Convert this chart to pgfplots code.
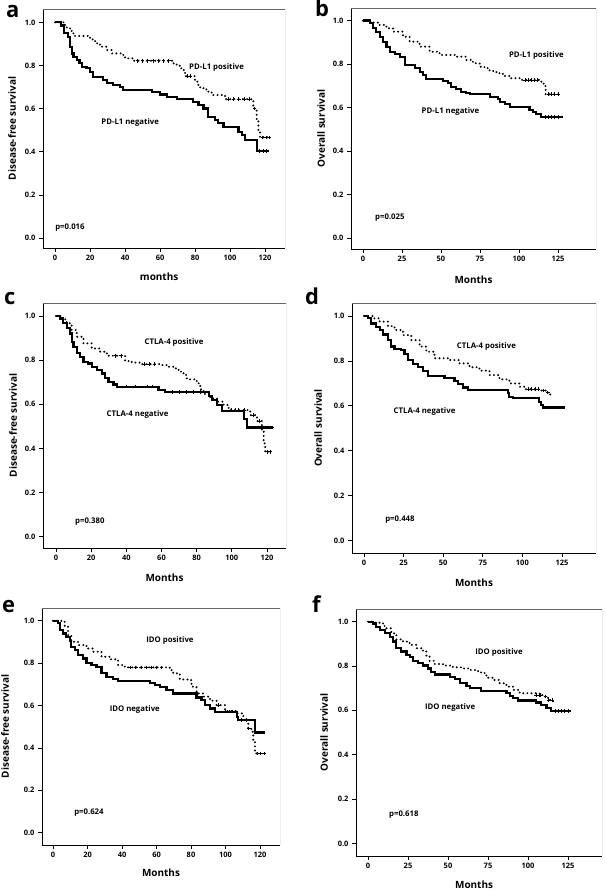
\documentclass[border=0pt]{standalone}
\usepackage{fontspec}
\setmainfont{Open Sans}
\usepackage{pgfplots}
\pgfplotsset{compat=1.18}
\newcommand{\tickf}{\fontsize{7.5}{8}\selectfont\bfseries}
\newcommand{\labf}{\fontsize{10}{12}\selectfont\bfseries}
\newcommand{\annf}{\fontsize{7.8}{9}\selectfont\bfseries}
\newcommand{\letf}{\fontsize{22}{26}\selectfont\bfseries}
\pgfplotsset{
  km/.style={
    scale only axis, anchor=north west,
    axis lines=left, axis line style={-, line width=0.9bp},
    x axis line style={-}, y axis line style={-},
    tick align=outside, tick pos=left, major tick length=4bp,
    tick style={black, line width=0.8bp},
    ytick={0,0.2,0.4,0.6,0.8,1.0},
    yticklabel style={/pgf/number format/.cd, fixed, fixed zerofill, precision=1},
    /pgf/number format/assume math mode=true,
    tick label style={font=\tickf},
    label style={font=\labf},
    xlabel style={anchor=center},
    ylabel style={anchor=center},
  },
  neg/.style={black, line width=2.2bp, const plot, line join=miter},
  pos/.style={black, line width=2.2bp, const plot, line cap=round, dash pattern=on 0bp off 4.2bp},
  cens/.style={only marks, mark=+, mark size=1.8bp, black, line width=0.8bp},
  xA/.style={xtick={0,20,40,60,80,100,120}},
  xB/.style={xtick={0,25,50,75,100,125}},
}
\newcommand{\frameTR}{\draw[black!60, line width=0.8bp] (rel axis cs:0,1) -- (rel axis cs:1,1) -- (rel axis cs:1,0);}
\begin{document}
\begin{tikzpicture}
\useasboundingbox (0bp,0bp) rectangle (606bp,891bp);
% panel letters
\node[font=\letf, anchor=base west, inner sep=0] at (6bp,873bp) {a};
\node[font=\letf, anchor=base west, inner sep=0] at (315bp,874bp) {b};
\node[font=\letf, anchor=base west, inner sep=0] at (4bp,586bp) {c};
\node[font=\letf, anchor=base west, inner sep=0] at (305bp,586bp) {d};
\node[font=\letf, anchor=base west, inner sep=0] at (2bp,278bp) {e};
\node[font=\letf, anchor=base west, inner sep=0] at (312bp,278bp) {f};

% ---------------- a ----------------
\begin{axis}[km, xA, at={(43bp,882bp)}, width=242bp, height=239bp,
  xmin=-6.9, xmax=131.4, ymin=-0.046, ymax=1.062,
  xlabel={months}, ylabel={Disease-free survival},
  xlabel style={at={(axis description cs:0.48,-0.121)}},
  ylabel style={at={(axis description cs:-0.128,0.5)}}]
\frameTR
\addplot[neg] coordinates {(0,1.0)(3.5,0.985)(5,0.95)(7.5,0.933)(8.5,0.887)(9.5,0.856)(10.5,0.84)(12.4,0.825)(14,0.81)(15.2,0.794)(18,0.787)(20,0.771)(21.9,0.748)(25.7,0.745)(27.6,0.733)(29.5,0.72)(33.3,0.709)(37,0.699)(39,0.686)(55.2,0.678)(60,0.666)(63.8,0.655)(69.5,0.644)(79,0.632)(82,0.617)(84.8,0.601)(87.6,0.563)(91.4,0.547)(93.3,0.532)(96.2,0.516)(104.8,0.493)(106.7,0.477)(108.6,0.454)(115.6,0.403)(122,0.403)};
\addplot[pos] coordinates {(0,1)(5.7,0.988)(6.7,0.972)(9.5,0.949)(11.4,0.937)(20,0.921)(22.9,0.903)(25.7,0.887)(29.5,0.872)(32.4,0.856)(39,0.838)(41.5,0.833)(44.8,0.822)(67.6,0.81)(69.5,0.799)(71.4,0.787)(73.3,0.779)(74.3,0.751)(80,0.725)(81.9,0.699)(84.8,0.689)(87.6,0.678)(89.5,0.663)(97.1,0.644)(113.3,0.601)(115.2,0.547)(116.2,0.493)(117.1,0.467)(123,0.467)};
\addplot[cens] coordinates {(117,0.403)(119,0.403)(121,0.403)(47,0.822)(50,0.822)(53,0.822)(56,0.822)(59,0.822)(62,0.822)(65,0.822)(75.5,0.751)(77.5,0.751)(99,0.644)(102,0.644)(105,0.644)(108,0.644)(111,0.644)(114,0.601)(118.5,0.467)(120.5,0.467)(122.5,0.467)};
\node[font=\annf] at (axis cs:92.3,0.793) {PD-L1 positive};
\node[font=\annf] at (axis cs:42.9,0.538) {PD-L1 negative};
\node[font=\annf, anchor=west, inner sep=0] at (axis cs:0,0.048) {p=0.016};
\end{axis}

% ---------------- b ----------------
\begin{axis}[km, xB, at={(351bp,883bp)}, width=245bp, height=241bp,
  xmin=-7.7, xmax=149.4, ymin=-0.051, ymax=1.058,
  xlabel={Months}, ylabel={Overall survival},
  xlabel style={at={(axis description cs:0.5,-0.129)}},
  ylabel style={at={(axis description cs:-0.122,0.5)}}]
\frameTR
\addplot[neg] coordinates {(0,1)(4.3,0.988)(6.4,0.965)(8.5,0.949)(10.7,0.926)(12.8,0.903)(15,0.88)(17.1,0.857)(20.3,0.845)(23.5,0.834)(26.7,0.796)(33.1,0.781)(36.3,0.765)(38.5,0.75)(40.6,0.732)(51.3,0.722)(54.5,0.712)(56.6,0.696)(59.8,0.684)(63,0.673)(66.2,0.666)(68.4,0.661)(81.2,0.65)(86.5,0.64)(87.6,0.627)(90.8,0.615)(94,0.604)(106.8,0.589)(109,0.581)(111.1,0.569)(114.3,0.555)(128,0.555)};
\addplot[pos] coordinates {(0,1)(3,0.995)(6.4,0.991)(10.7,0.98)(15,0.965)(19.2,0.949)(25.6,0.926)(29.9,0.903)(36.3,0.88)(42.7,0.857)(49.1,0.842)(59.8,0.834)(66.2,0.819)(70.5,0.804)(74.8,0.788)(77.9,0.781)(81.2,0.768)(85.5,0.758)(89.7,0.745)(94,0.735)(100.4,0.727)(114.3,0.719)(115.8,0.699)(117.1,0.661)(127,0.661)};
\addplot[cens] coordinates {(117,0.555)(119,0.555)(121,0.555)(123,0.555)(125,0.555)(104,0.727)(106,0.727)(108,0.727)(110,0.727)(112,0.727)(119,0.661)(121,0.661)(123,0.661)(125,0.661)};
\node[font=\annf] at (axis cs:111.2,0.838) {PD-L1 positive};
\node[font=\annf] at (axis cs:56.1,0.584) {PD-L1 negative};
\node[font=\annf, anchor=west, inner sep=0] at (axis cs:7.7,0.092) {p=0.025};
\end{axis}

% ---------------- c ----------------
\begin{axis}[km, xA, at={(43bp,588bp)}, width=243bp, height=245bp,
  xmin=-7.4, xmax=130.8, ymin=-0.051, ymax=1.059,
  xlabel={Months}, ylabel={Disease-free survival},
  xlabel style={at={(axis description cs:0.5,-0.122)}},
  ylabel style={at={(axis description cs:-0.123,0.5)}}]
\frameTR
\addplot[neg] coordinates {(0,1)(2.3,0.989)(4.2,0.967)(6.1,0.944)(8,0.921)(8.9,0.884)(9.9,0.861)(11.8,0.831)(13.7,0.816)(15.6,0.793)(18.4,0.785)(20.3,0.77)(23.2,0.755)(26,0.74)(27.9,0.718)(29.8,0.702)(32.7,0.69)(34.6,0.68)(58.3,0.665)(62.1,0.655)(86.8,0.637)(88.7,0.619)(91.5,0.597)(94.4,0.57)(106.7,0.532)(108.6,0.495)(123.5,0.495)};
\addplot[pos] coordinates {(0,1)(3.2,0.985)(6.1,0.967)(8.9,0.937)(11.8,0.906)(15.6,0.876)(20.3,0.853)(25.1,0.838)(28.9,0.82)(39.3,0.796)(43.1,0.789)(47.8,0.782)(60.2,0.778)(64,0.77)(66.8,0.763)(69.7,0.748)(72.5,0.733)(74.4,0.713)(80.1,0.695)(82,0.668)(83.9,0.647)(87.7,0.627)(91.5,0.612)(95.3,0.597)(98.2,0.574)(110.5,0.551)(114.3,0.524)(117.1,0.483)(118.1,0.423)(119,0.385)(123,0.385)};
\addplot[cens] coordinates {(40,0.68)(45,0.68)(52,0.68)(55,0.68)(66,0.655)(70,0.655)(74,0.655)(78,0.655)(82,0.655)(110,0.495)(115,0.495)(120,0.495)(123,0.495)(34,0.82)(37,0.82)(50,0.782)(53,0.782)(56,0.782)(100,0.574)(102,0.574)(104,0.574)(107,0.574)(112,0.551)(115.5,0.524)(120,0.385)(122,0.385)};
\node[font=\annf] at (axis cs:67.1,0.882) {CTLA-4 positive};
\node[font=\annf] at (axis cs:46.4,0.556) {CTLA-4 negative};
\node[font=\annf, anchor=west, inner sep=0] at (axis cs:10.8,0.067) {p=0.380};
\end{axis}

% ---------------- d ----------------
\begin{axis}[km, xB, at={(352bp,588bp)}, width=244bp, height=250bp,
  xmin=-7.6, xmax=146.5, ymin=-0.055, ymax=1.058,
  xlabel={Months}, ylabel={Overall survival},
  xlabel style={at={(axis description cs:0.5,-0.12)}},
  ylabel style={at={(axis description cs:-0.139,0.5)}}]
\frameTR
\addplot[neg] coordinates {(0,1)(2.5,0.99)(4.6,0.967)(7.8,0.95)(9.9,0.938)(12,0.918)(15.1,0.893)(17.2,0.864)(19.3,0.852)(23.5,0.849)(25.6,0.831)(27.7,0.804)(30.9,0.786)(34,0.772)(37.2,0.757)(40.3,0.733)(50.8,0.723)(57.1,0.712)(59.2,0.697)(62.4,0.682)(65.5,0.671)(90.8,0.656)(91.8,0.641)(93.9,0.634)(110.7,0.619)(111.8,0.604)(112.8,0.593)(127,0.593)};
\addplot[pos] coordinates {(0,1)(5.7,0.99)(9.9,0.975)(15.1,0.955)(19.3,0.938)(24.6,0.915)(29.8,0.893)(35.1,0.864)(39.3,0.841)(44.5,0.812)(54,0.804)(60.3,0.789)(66.6,0.772)(72.9,0.757)(79.2,0.737)(85.5,0.718)(91.8,0.7)(98.1,0.685)(102.3,0.674)(111.8,0.668)(114.9,0.659)(117,0.651)(118.7,0.651)};
\addplot[cens] coordinates {(115,0.593)(117,0.593)(119,0.593)(121,0.593)(123,0.593)(125,0.593)(104,0.674)(106,0.674)(108,0.674)(110,0.674)(113,0.668)(116,0.659)};
\node[font=\annf] at (axis cs:77.3,0.866) {CTLA-4 positive};
\node[font=\annf] at (axis cs:38.2,0.577) {CTLA-4 negative};
\node[font=\annf, anchor=west, inner sep=0] at (axis cs:13.3,0.092) {p=0.448};
\end{axis}

% ---------------- e ----------------
\begin{axis}[km, xA, at={(42bp,283bp)}, width=238bp, height=237bp,
  xmin=-6.4, xmax=131.6, ymin=-0.058, ymax=1.06,
  xlabel={Months}, ylabel={Disease-free survival},
  xlabel style={at={(axis description cs:0.5,-0.118)}},
  ylabel style={at={(axis description cs:-0.155,0.5)}}]
\frameTR
\addplot[neg] coordinates {(0,1)(2.9,0.991)(3.9,0.956)(5.8,0.94)(7.7,0.925)(9.7,0.906)(10.6,0.877)(12.6,0.862)(14.5,0.838)(17.4,0.822)(19.4,0.802)(22.3,0.791)(25.2,0.78)(28.1,0.752)(31,0.736)(34.8,0.725)(37.7,0.717)(56.1,0.708)(59,0.697)(61.9,0.686)(65.8,0.673)(69.7,0.657)(83.2,0.638)(86.1,0.626)(88.1,0.602)(90.9,0.586)(93.9,0.571)(106.5,0.547)(107.4,0.531)(117.1,0.473)(122.9,0.473)};
\addplot[pos] coordinates {(0,1)(4.8,0.995)(6.8,0.972)(8.7,0.932)(10.6,0.901)(14.5,0.885)(19.4,0.869)(23.2,0.854)(28.1,0.83)(32.9,0.818)(37.7,0.791)(41.6,0.78)(67.7,0.767)(69.7,0.752)(73.5,0.723)(78.4,0.72)(80.3,0.689)(83.2,0.657)(87.1,0.642)(91,0.623)(94.8,0.602)(99.7,0.574)(106.5,0.563)(110.3,0.531)(113.2,0.492)(115,0.476)(116.1,0.437)(117.1,0.374)(123.9,0.374)};
\addplot[cens] coordinates {(100,0.571)(102,0.571)(104,0.571)(109,0.531)(112,0.531)(119,0.473)(121,0.473)(45,0.78)(48,0.78)(51,0.78)(54,0.78)(57,0.78)(60,0.78)(63,0.78)(96,0.602)(113.5,0.492)(118.5,0.374)(120.5,0.374)(122.5,0.374)};
\node[font=\annf] at (axis cs:67.8,0.909) {IDO positive};
\node[font=\annf] at (axis cs:47.4,0.583) {IDO negative};
\node[font=\annf, anchor=west, inner sep=0] at (axis cs:12.2,0.093) {p=0.624};
\end{axis}

% ---------------- f ----------------
\begin{axis}[km, xB, at={(356bp,282bp)}, width=246bp, height=247bp,
  xmin=-7.5, xmax=146.25, ymin=-0.057, ymax=1.057,
  xlabel={Months}, ylabel={Overall survival},
  xlabel style={at={(axis description cs:0.48,-0.117)}},
  ylabel style={at={(axis description cs:-0.13,0.5)}}]
\frameTR
\addplot[neg] coordinates {(0,1)(3.1,0.992)(5.2,0.977)(7.3,0.962)(10.4,0.947)(13.5,0.932)(15.6,0.91)(17.7,0.88)(20.8,0.865)(24,0.85)(26,0.839)(28.1,0.824)(31.3,0.812)(34.4,0.802)(37.5,0.789)(39.6,0.774)(41.7,0.762)(51,0.752)(54.2,0.74)(57.3,0.725)(61.5,0.71)(63.5,0.699)(70.8,0.687)(86.5,0.677)(88.5,0.665)(90.6,0.654)(93.8,0.644)(105.2,0.635)(108.3,0.624)(111.5,0.609)(114.6,0.598)(127.1,0.598)};
\addplot[pos] coordinates {(0,1)(4.2,0.995)(8.3,0.992)(10.4,0.97)(14.6,0.947)(17.7,0.92)(21.9,0.91)(26,0.895)(30.2,0.88)(34.4,0.865)(36.5,0.842)(38.5,0.823)(41.7,0.809)(46.9,0.802)(53.1,0.794)(59.4,0.789)(63.5,0.782)(68.8,0.771)(72.9,0.759)(74,0.747)(78.1,0.737)(82.3,0.722)(86.5,0.707)(90.6,0.692)(94.8,0.677)(107.3,0.669)(109.4,0.662)(112.5,0.647)(115.6,0.639)(116,0.639)};
\addplot[cens] coordinates {(117,0.598)(119,0.598)(121,0.598)(123,0.598)(125,0.598)(105,0.669)(107,0.669)(108,0.669)(111,0.662)(113,0.647)(115,0.647)};
\node[font=\annf] at (axis cs:81.9,0.863) {IDO positive};
\node[font=\annf] at (axis cs:51.3,0.611) {IDO negative};
\node[font=\annf, anchor=west, inner sep=0] at (axis cs:13.1,0.128) {p=0.618};
\end{axis}
\end{tikzpicture}
\end{document}
